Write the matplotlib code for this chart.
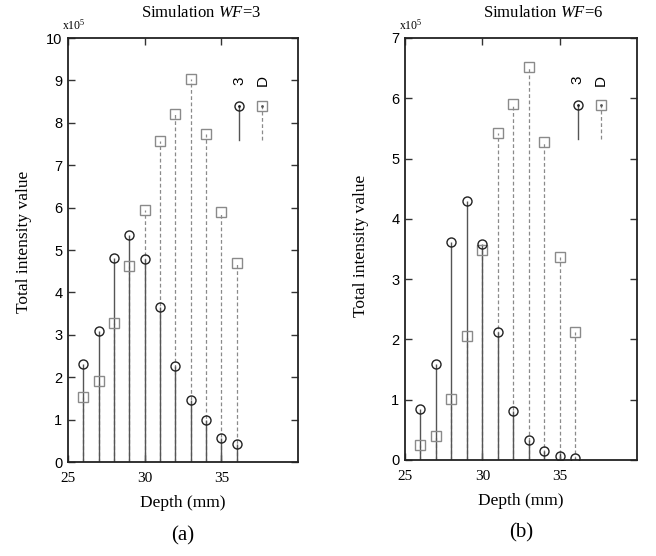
import matplotlib.pyplot as plt
import numpy as np

plt.rcParams['font.family'] = ['Liberation Sans', 'DejaVu Sans']
plt.rcParams['mathtext.fontset'] = 'custom'
plt.rcParams['mathtext.it'] = 'Liberation Serif:italic'
plt.rcParams['mathtext.rm'] = 'Liberation Serif'

depth = np.arange(26, 37)

# panel (a), WF=3, values in units of 1e5
wf3_meas = [2.32, 3.09, 4.82, 5.35, 4.79, 3.66, 2.26, 1.47, 0.99, 0.57, 0.43]
wf3_sim = [1.53, 1.90, 3.29, 4.62, 5.94, 7.58, 8.21, 9.03, 7.74, 5.89, 4.70]

# panel (b), WF=6
wf6_meas = [0.85, 1.60, 3.61, 4.29, 3.58, 2.12, 0.81, 0.33, 0.15, 0.06, 0.03]
wf6_sim = [0.25, 0.40, 1.01, 2.05, 3.49, 5.42, 5.90, 6.52, 5.27, 3.37, 2.12]

panels = [
    ("3", wf3_meas, wf3_sim, 10, "(a)", [0.1037, 0.169, 0.3506, 0.7626], 0.58, 0.52),
    ("6", wf6_meas, wf6_sim, 7, "(b)", [0.6174, 0.1727, 0.3537, 0.759], 0.595, 0.507),
]

serif = ['Liberation Serif', 'DejaVu Serif']
circ_col = "#222222"
sq_col = "#8a8a8a"

fig = plt.figure(figsize=(6.56, 5.56), dpi=100)

for wf, meas, sim, ymax, tag, pos, title_x, ylab_y in panels:
    ax = fig.add_axes(pos)

    ax.vlines(depth, 0, sim, colors=sq_col, linestyles=(0, (3, 2)), linewidth=0.9)
    ax.vlines(depth, 0, meas, colors="#555555", linewidth=1.0)
    ax.plot(depth, sim, 's', mfc='none', mec=sq_col, ms=6.5, mew=1.0)
    ax.plot(depth, meas, 'o', mfc='none', mec=circ_col, ms=6.5, mew=1.0)

    ax.set_xlim(25, 40)
    ax.set_ylim(0, ymax)
    ax.set_xticks([25, 30, 35])
    ax.set_yticks(range(0, ymax + 1))
    ax.tick_params(direction='in', top=True, right=True, length=5, width=1,
                   labelsize=10.5, color="#333333")
    ax.tick_params(axis='x', pad=7)
    ax.tick_params(axis='y', pad=4)
    for lbl in ax.get_xticklabels():
        lbl.set_family(serif)
        lbl.set_fontsize(11)
    for s in ax.spines.values():
        s.set_linewidth(1.3)
        s.set_color("#222222")

    # legend drawn as in the original: rotated labels above stem symbols
    tr = ax.transAxes
    ax.plot([0.745, 0.745], [0.76, 0.84], color="#555555", lw=1.0, transform=tr)
    ax.plot([0.745], [0.84], 'o', mfc='none', mec=circ_col, ms=6.5, mew=1.0, transform=tr)
    ax.plot([0.745], [0.84], '.', color=circ_col, ms=2, transform=tr)
    ax.plot([0.845, 0.845], [0.76, 0.84], color=sq_col, lw=0.9, ls=(0, (3, 2)), transform=tr)
    ax.plot([0.845], [0.84], 's', mfc='none', mec=sq_col, ms=6.5, mew=1.0, transform=tr)
    ax.plot([0.845], [0.84], '.', color="#555555", ms=2, transform=tr)
    ax.text(0.745, 0.90, "3", rotation=90, ha='center', va='center', fontsize=11, transform=tr)
    ax.text(0.845, 0.90, "D", rotation=90, ha='center', va='center', fontsize=11, transform=tr)

    ax.text(-0.025, 1.012, r"x10$^5$", ha='left', va='bottom', fontsize=8.5,
            family=serif, transform=tr)
    ax.text(title_x, 1.06, "Simulation $\\mathit{WF}$=" + wf, ha='center', va='center',
            fontsize=12, family=serif, transform=tr)
    ax.text(-0.19, ylab_y, "Total intensity value", rotation=90, ha='center', va='center',
            fontsize=12.5, family=serif, transform=tr)
    ax.text(0.5, -0.097, "Depth (mm)", ha='center', va='center', fontsize=12.5,
            family=serif, transform=tr)
    ax.text(0.5, -0.173, tag, ha='center', va='center', fontsize=15,
            family=serif, transform=tr)

fig.savefig("out.png", dpi=100)
